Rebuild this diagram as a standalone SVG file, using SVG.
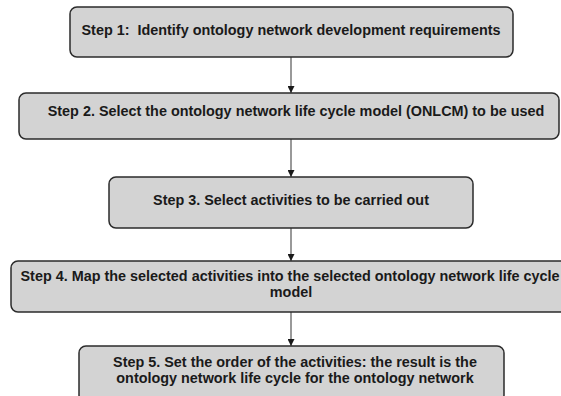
<svg xmlns="http://www.w3.org/2000/svg" width="561" height="396" viewBox="0 0 561 396">
  <style>
    .box { fill: #d3d3d3; stroke: #2b2b2b; stroke-width: 1.5; }
    .lbl { font-family: "Liberation Sans", Arial, sans-serif; font-weight: bold; font-size: 14.4px; fill: #1a1a1a; text-anchor: middle; }
    .conn { stroke: #555555; stroke-width: 1.2; fill: none; marker-end: url(#arr); }
  </style>
  <defs>
    <marker id="arr" viewBox="0 0 10 10" refX="10" refY="5" markerWidth="7" markerHeight="7" markerUnits="userSpaceOnUse" orient="auto">
      <path d="M0,0 L10,5 L0,10 z" fill="#1a1a1a"/>
    </marker>
  </defs>
  <rect width="561" height="396" fill="#ffffff"/>
  <g id="connectors">
    <line class="conn" x1="291" y1="57" x2="291" y2="93"/>
    <line class="conn" x1="291" y1="139" x2="291" y2="177"/>
    <line class="conn" x1="291" y1="228" x2="291" y2="261"/>
    <line class="conn" x1="291" y1="312" x2="291" y2="346"/>
  </g>
  <g id="step1">
    <rect class="box" x="70" y="7" width="443" height="50" rx="7"/>
    <text class="lbl" x="291" y="35" xml:space="preserve">Step 1:  Identify ontology network development requirements</text>
  </g>
  <g id="step2">
    <rect class="box" x="19" y="93" width="540" height="46" rx="7"/>
    <text class="lbl" x="296" y="116">Step 2. Select the ontology network life cycle model (ONLCM) to be used</text>
  </g>
  <g id="step3">
    <rect class="box" x="109" y="177" width="364" height="51" rx="7"/>
    <text class="lbl" x="291" y="205">Step 3. Select activities to be carried out</text>
  </g>
  <g id="step4">
    <rect class="box" x="11" y="261" width="560" height="51" rx="7"/>
    <text class="lbl" x="290" y="281">Step 4. Map the selected activities into the selected ontology network life cycle</text>
    <text class="lbl" x="291" y="297">model</text>
  </g>
  <g id="step5">
    <rect class="box" x="79" y="346" width="425" height="56" rx="7"/>
    <text class="lbl" x="295" y="367">Step 5. Set the order of the activities: the result is the</text>
    <text class="lbl" x="295" y="383">ontology network life cycle for the ontology network</text>
  </g>
</svg>
